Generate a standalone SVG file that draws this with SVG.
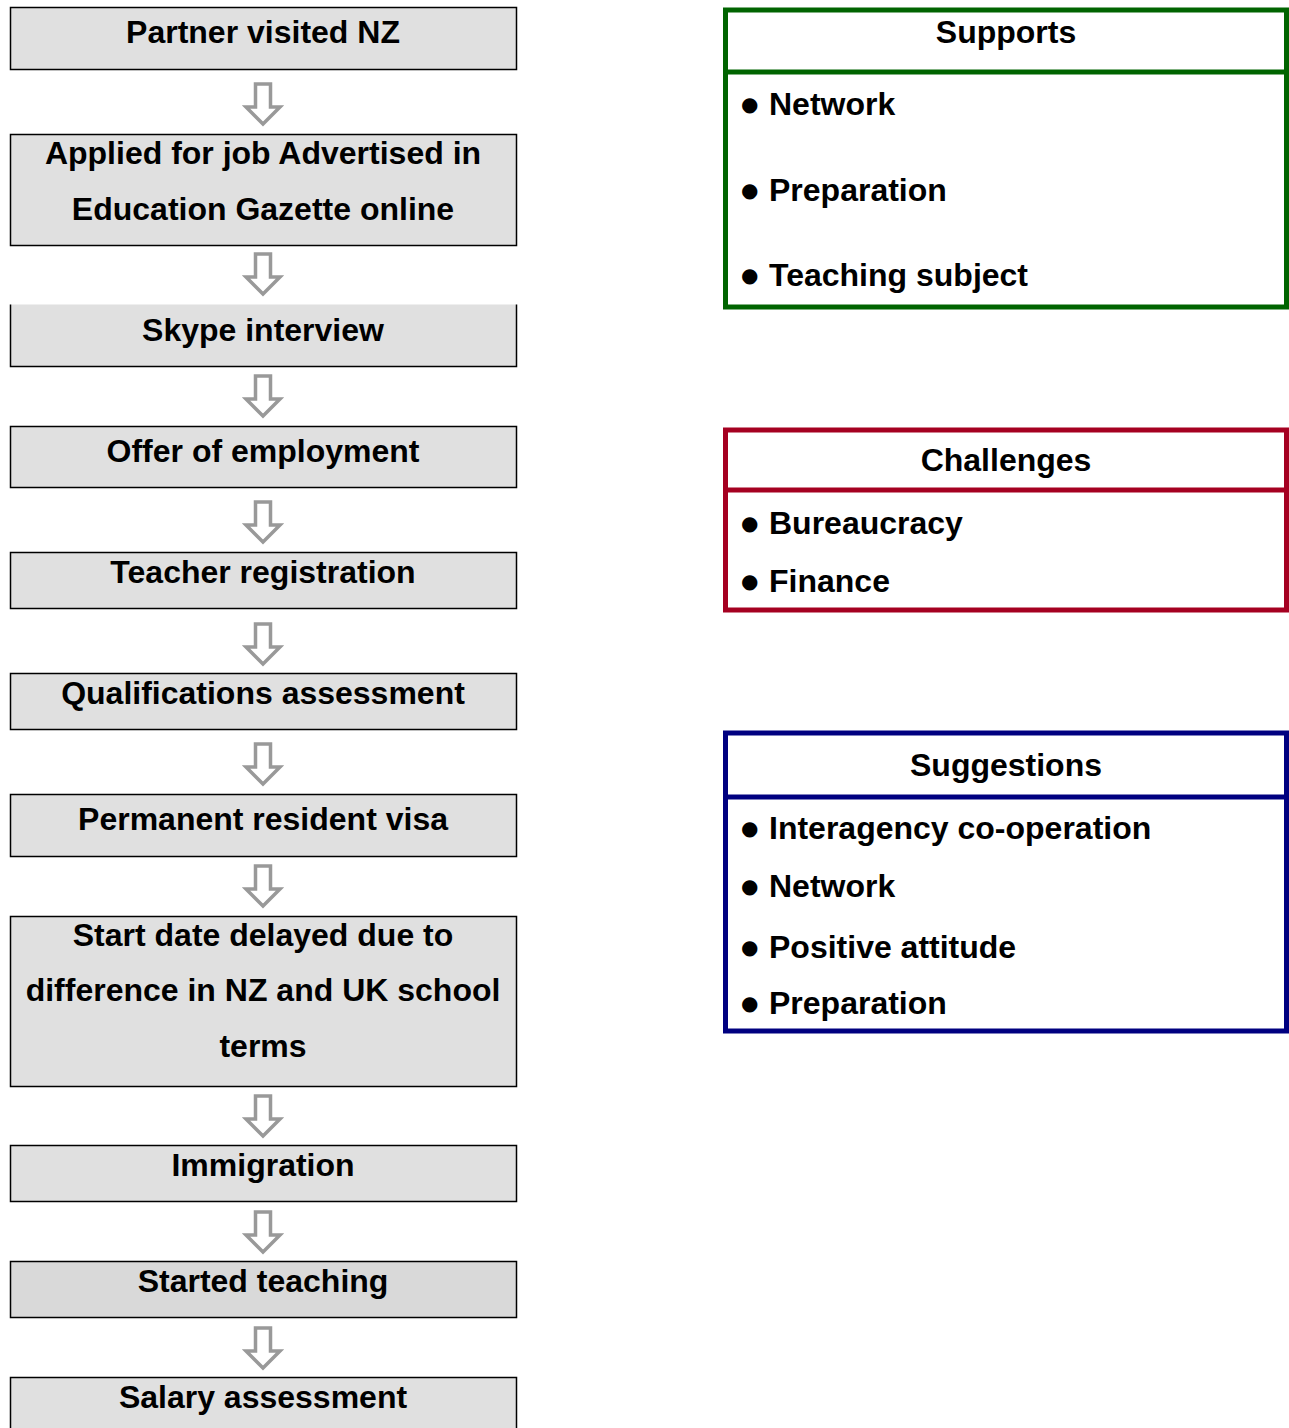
<svg xmlns="http://www.w3.org/2000/svg" width="1289" height="1428" viewBox="0 0 1289 1428">
  <defs>
    <style>
      .step { fill: #e0e0e0; stroke: #000; stroke-width: 1.5; }
      .step-dark { fill: #d9d9d9; stroke: #000; stroke-width: 1.5; }
      .lbl { font-family: "Liberation Sans", Arial, sans-serif; font-weight: bold; font-size: 32px; fill: #000; }
      .mid { text-anchor: middle; }
      .dot { font-family: "DejaVu Sans", sans-serif; font-size: 20px; font-weight: normal; }
      .arrow { fill: #fff; stroke: #999; stroke-width: 3.5; stroke-linejoin: miter; }
      .panel { fill: #fff; stroke-width: 5; }
    </style>
    <!-- hollow down arrow, origin at top centre of the shaft -->
    <path id="down" class="arrow" d="M -7.5 0 H 7.5 V 23 H 17 L 0 40 L -17 23 H -7.5 Z"/>
  </defs>

  <!-- left column: process steps -->
  <g id="step1">
    <rect class="step" x="10.5" y="7.5" width="506" height="62"/>
    <text class="lbl mid" x="263" y="43">Partner visited NZ</text>
  </g>
  <g id="step2">
    <rect class="step" x="10.5" y="134.5" width="506" height="111"/>
    <text class="lbl mid" x="263" y="164">Applied for job Advertised in</text>
    <text class="lbl mid" x="263" y="220">Education Gazette online</text>
  </g>
  <g id="step3">
    <rect x="10.5" y="304.5" width="506" height="62" fill="#e0e0e0"/>
    <path d="M 10.5 304.5 V 366.5 H 516.5 V 304.5" fill="none" stroke="#000" stroke-width="1.5"/>
    <text class="lbl mid" x="263" y="341">Skype interview</text>
  </g>
  <g id="step4">
    <rect class="step" x="10.5" y="426.5" width="506" height="61"/>
    <text class="lbl mid" x="263" y="462">Offer of employment</text>
  </g>
  <g id="step5">
    <rect class="step" x="10.5" y="552.5" width="506" height="56"/>
    <text class="lbl mid" x="263" y="583">Teacher registration</text>
  </g>
  <g id="step6">
    <rect class="step" x="10.5" y="673.5" width="506" height="56"/>
    <text class="lbl mid" x="263" y="704">Qualifications assessment</text>
  </g>
  <g id="step7">
    <rect class="step" x="10.5" y="794.5" width="506" height="62"/>
    <text class="lbl mid" x="263" y="830">Permanent resident visa</text>
  </g>
  <g id="step8">
    <rect class="step" x="10.5" y="916.5" width="506" height="170"/>
    <text class="lbl mid" x="263" y="946">Start date delayed due to</text>
    <text class="lbl mid" x="263" y="1001">difference in NZ and UK school</text>
    <text class="lbl mid" x="263" y="1057">terms</text>
  </g>
  <g id="step9">
    <rect class="step" x="10.5" y="1145.5" width="506" height="56"/>
    <text class="lbl mid" x="263" y="1176">Immigration</text>
  </g>
  <g id="step10">
    <rect class="step-dark" x="10.5" y="1261.5" width="506" height="56"/>
    <text class="lbl mid" x="263" y="1292">Started teaching</text>
  </g>
  <g id="step11">
    <rect class="step" x="10.5" y="1377.5" width="506" height="60"/>
    <text class="lbl mid" x="263" y="1408">Salary assessment</text>
  </g>

  <!-- connectors between steps -->
  <g id="connectors">
    <use href="#down" x="263" y="84"/>
    <use href="#down" x="263" y="254"/>
    <use href="#down" x="263" y="376"/>
    <use href="#down" x="263" y="502"/>
    <use href="#down" x="263" y="624"/>
    <use href="#down" x="263" y="744"/>
    <use href="#down" x="263" y="866"/>
    <use href="#down" x="263" y="1096"/>
    <use href="#down" x="263" y="1212"/>
    <use href="#down" x="263" y="1328"/>
  </g>

  <!-- right column: summary panels -->
  <g id="supports">
    <rect class="panel" x="725.5" y="10" width="561" height="297" stroke="#006400"/>
    <line x1="725.5" y1="72" x2="1286.5" y2="72" stroke="#006400" stroke-width="5"/>
    <text class="lbl mid" x="1006" y="43">Supports</text>
    <text class="lbl" y="115"><tspan class="dot" x="741" dy="-4">●</tspan><tspan x="769" dy="4">Network</tspan></text>
    <text class="lbl" y="201"><tspan class="dot" x="741" dy="-4">●</tspan><tspan x="769" dy="4">Preparation</tspan></text>
    <text class="lbl" y="286"><tspan class="dot" x="741" dy="-4">●</tspan><tspan x="769" dy="4">Teaching subject</tspan></text>
  </g>

  <g id="challenges">
    <rect class="panel" x="725.5" y="430" width="561" height="180" stroke="#a50021"/>
    <line x1="725.5" y1="490" x2="1286.5" y2="490" stroke="#a50021" stroke-width="5"/>
    <text class="lbl mid" x="1006" y="471">Challenges</text>
    <text class="lbl" y="534"><tspan class="dot" x="741" dy="-4">●</tspan><tspan x="769" dy="4">Bureaucracy</tspan></text>
    <text class="lbl" y="592"><tspan class="dot" x="741" dy="-4">●</tspan><tspan x="769" dy="4">Finance</tspan></text>
  </g>

  <g id="suggestions">
    <rect class="panel" x="725.5" y="733" width="561" height="298" stroke="#000080"/>
    <line x1="725.5" y1="797" x2="1286.5" y2="797" stroke="#000080" stroke-width="5"/>
    <text class="lbl mid" x="1006" y="776">Suggestions</text>
    <text class="lbl" y="839"><tspan class="dot" x="741" dy="-4">●</tspan><tspan x="769" dy="4">Interagency co-operation</tspan></text>
    <text class="lbl" y="897"><tspan class="dot" x="741" dy="-4">●</tspan><tspan x="769" dy="4">Network</tspan></text>
    <text class="lbl" y="958"><tspan class="dot" x="741" dy="-4">●</tspan><tspan x="769" dy="4">Positive attitude</tspan></text>
    <text class="lbl" y="1014"><tspan class="dot" x="741" dy="-4">●</tspan><tspan x="769" dy="4">Preparation</tspan></text>
  </g>
</svg>
